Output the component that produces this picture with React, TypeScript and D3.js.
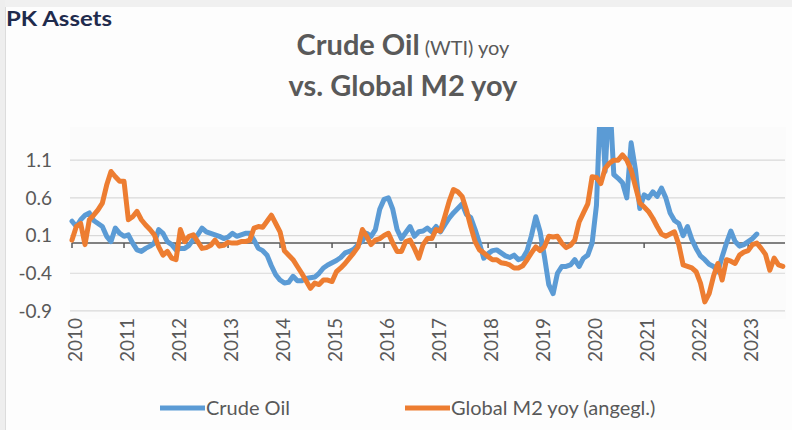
import React from "react";
import * as d3 from "d3";

const years = ["2010","2011","2012","2013","2014","2015","2016","2017","2018","2019","2020","2021","2022","2023"];
const yTicks = [1.1, 0.6, 0.1, -0.4, -0.9];

// monthly values starting Jan 2010
const crudeOil = [
  0.29,0.22,0.31,0.37,0.40,0.30,0.26,0.22,0.09,0.02,0.20,0.13,
  0.09,0.11,0.00,-0.09,-0.11,-0.07,-0.04,0.00,0.18,0.13,0.02,-0.02,
  -0.09,-0.07,-0.07,-0.03,0.05,0.11,0.20,0.15,0.13,0.11,0.09,0.06,
  0.08,0.13,0.09,0.11,0.13,0.13,0.04,-0.07,-0.10,-0.16,-0.30,-0.42,
  -0.49,-0.53,-0.52,-0.44,-0.50,-0.50,-0.47,-0.46,-0.45,-0.40,-0.33,-0.29,
  -0.26,-0.23,-0.19,-0.13,-0.11,-0.08,-0.02,0.03,0.13,0.09,0.18,0.45,
  0.58,0.60,0.45,0.18,0.06,0.14,0.22,0.09,0.15,0.16,0.20,0.15,
  0.22,0.15,0.24,0.33,0.40,0.46,0.52,0.38,0.34,0.18,0.00,-0.20,
  -0.14,-0.10,-0.09,-0.13,-0.17,-0.19,-0.16,-0.22,-0.20,-0.10,0.10,0.35,
  0.15,-0.18,-0.55,-0.67,-0.40,-0.31,-0.31,-0.29,-0.22,-0.31,-0.20,-0.16,
  0.00,0.50,2.00,0.95,2.00,0.91,0.86,0.80,0.60,1.33,0.97,0.46,
  0.64,0.60,0.68,0.62,0.73,0.60,0.40,0.30,0.26,0.10,0.22,0.05,
  -0.07,-0.17,-0.22,-0.28,-0.31,-0.38,-0.18,0.00,0.16,0.02,-0.04,-0.02,
  0.02,0.06,0.12
];

const globalM2 = [
  0.04,0.22,0.26,-0.02,0.31,0.37,0.44,0.53,0.77,0.95,0.88,0.82,
  0.82,0.31,0.35,0.42,0.31,0.24,0.18,0.11,-0.05,-0.16,-0.11,-0.20,
  -0.22,0.18,0.02,0.09,0.11,0.02,-0.07,-0.06,-0.03,0.04,-0.04,-0.03,
  0.01,0.00,0.00,0.02,0.02,0.04,0.20,0.22,0.21,0.29,0.37,0.26,
  0.15,-0.10,-0.16,-0.22,-0.31,-0.40,-0.50,-0.60,-0.53,-0.55,-0.49,-0.49,
  -0.51,-0.38,-0.33,-0.27,-0.20,-0.13,-0.05,0.18,0.09,-0.02,0.04,0.06,
  0.10,0.13,0.00,-0.11,-0.11,0.02,0.04,-0.07,-0.20,-0.02,0.06,0.06,
  0.18,0.16,0.35,0.55,0.71,0.68,0.62,0.44,0.22,0.02,-0.09,-0.13,
  -0.18,-0.22,-0.22,-0.26,-0.27,-0.29,-0.33,-0.33,-0.30,-0.22,-0.13,-0.05,
  -0.10,-0.05,0.09,0.08,0.09,0.00,-0.06,-0.03,0.04,0.28,0.40,0.52,
  0.88,0.87,0.79,0.99,1.06,1.10,1.10,1.17,1.10,0.97,0.75,0.53,
  0.48,0.42,0.33,0.22,0.12,0.09,0.12,0.15,-0.02,-0.29,-0.31,-0.33,
  -0.38,-0.53,-0.78,-0.67,-0.44,-0.27,-0.49,-0.22,-0.24,-0.27,-0.16,-0.12,
  -0.10,-0.02,0.00,-0.07,-0.15,-0.36,-0.20,-0.29,-0.31
];

const seriesNames = ["Crude Oil", "Global M2 yoy (angegl.)"];
const BLUE = "#5b9bd5";
const ORANGE = "#ed7d31";
const GRAY = "#595959";
const FONT = "Lato, 'Open Sans', sans-serif";

export default function App() {
  const W = 792, H = 430;
  const x = d3.scaleLinear().domain([0, 164.5]).range([72, 785]);
  const y = d3.scaleLinear().domain([-1.0, 1.54]).range([318.5, 127]);
  const line = d3.line<number>().x((_, i) => x(i)).y(d => y(d)).curve(d3.curveLinear);

  return (
    <div style={{ position: "fixed", left: 0, top: 0 }}>
      <svg width={W} height={H} style={{ display: "block" }}>
        <defs>
          <clipPath id="plotclip">
            <rect x={68} y={127} width={720} height={192} />
          </clipPath>
        </defs>
        <rect x={0} y={0} width={W} height={H} fill="#fdfdfd" />
        <rect x={0} y={0} width={W} height={7} fill="#f0f0f0" />
        <rect x={0} y={0} width={5} height={H} fill="#eeeeee" />
        <line x1={5.5} x2={5.5} y1={7} y2={H} stroke="#dcdcdc" />
        <rect x={70} y={127} width={716} height={192} fill="#fbfbfb" />

        <text x={6} y={26} fontFamily={FONT} fontWeight={700} fontSize={20} fill="#1f2b4d" textLength={106} lengthAdjust="spacingAndGlyphs">PK Assets</text>

        <text x={403} y={55} textAnchor="middle" fontFamily={FONT} fill={GRAY}>
          <tspan fontWeight={700} fontSize={29}>Crude Oil</tspan>
          <tspan fontSize={20} dx={5}>(WTI) yoy</tspan>
        </text>
        <text x={403} y={96} textAnchor="middle" fontFamily={FONT} fontWeight={700} fontSize={29} fill={GRAY}>vs. Global M2 yoy</text>

        {yTicks.map(t => (
          <g key={t}>
            <line x1={70} x2={785} y1={y(t)} y2={y(t)} stroke="#d9d9d9" strokeWidth={1.2} />
            <text x={52} y={y(t)} dy="0.35em" textAnchor="end" fontFamily={FONT} fontSize={19} fill={GRAY}>{t.toFixed(1)}</text>
          </g>
        ))}

        <line x1={72} x2={785} y1={y(0)} y2={y(0)} stroke="#595959" strokeWidth={1.5} />
        {years.map((yr, i) => (
          <g key={yr}>
            <line x1={x(i * 12)} x2={x(i * 12)} y1={y(0)} y2={y(0) + 5} stroke="#595959" strokeWidth={1.5} />
            <text transform={`translate(${x(i * 12) + 3},318) rotate(-90)`} dy="0.35em" textAnchor="end" fontFamily={FONT} fontSize={19} fill={GRAY}>{yr}</text>
          </g>
        ))}

        <g clipPath="url(#plotclip)">
          <path d={line(crudeOil) || ""} fill="none" stroke={BLUE} strokeWidth={5} strokeLinejoin="round" strokeLinecap="round" />
          <path d={line(globalM2) || ""} fill="none" stroke={ORANGE} strokeWidth={5} strokeLinejoin="round" strokeLinecap="round" />
        </g>

        <line x1={160} x2={205} y1={408} y2={408} stroke={BLUE} strokeWidth={5} />
        <text x={206} y={408} dy="0.35em" fontFamily={FONT} fontSize={20} fill={GRAY}>{seriesNames[0]}</text>
        <line x1={405} x2={450} y1={408} y2={408} stroke={ORANGE} strokeWidth={5} />
        <text x={451} y={408} dy="0.35em" fontFamily={FONT} fontSize={20} fill={GRAY}>{seriesNames[1]}</text>
      </svg>
    </div>
  );
}
